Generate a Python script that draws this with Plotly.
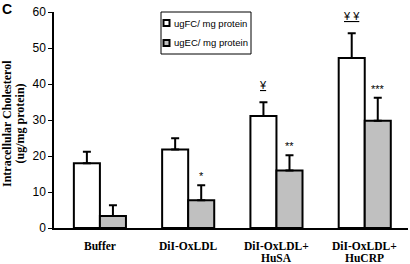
import plotly.graph_objects as go

categories = ["Buffer", "DiI-OxLDL", "DiI-OxLDL+<br>HuSA", "DiI-OxLDL+<br>HuCRP"]
series_names = ["ugFC/ mg protein", "ugEC/ mg protein"]
fc_values = [18.0, 21.8, 31.1, 47.2]
fc_errors = [3.2, 3.1, 3.8, 6.9]
ec_values = [3.3, 7.7, 16.0, 29.8]
ec_errors = [3.0, 4.2, 4.2, 6.4]
fc_marks = ["", "", "<u>¥</u>", "<u>¥ ¥</u>"]
ec_marks = ["", "*", "**", "***"]
y_ticks = [0, 10, 20, 30, 40, 50, 60]
y_title = ["Intracellular Cholesterol", "(ug/mg protein)"]
panel_label = "C"
colors = ["white", "#c0c0c0"]

W, H = 410, 264
ML, MR, MT, MB = 54, 2, 12, 36
pw = W - ML - MR
ph = H - MT - MB


def px(x):
    return (x - ML) / pw


def py(y):
    return 1 - (y - MT) / ph


idx = list(range(len(categories)))
bargap = 0.41
half = (1 - bargap) / 4

fig = go.Figure()
for name, vals, errs, col in [(series_names[0], fc_values, fc_errors, colors[0]),
                              (series_names[1], ec_values, ec_errors, colors[1])]:
    fig.add_trace(go.Bar(
        x=idx, y=vals, name=name,
        marker=dict(color=col, line=dict(color="black", width=2)),
        error_y=dict(type="data", array=errs, arrayminus=[0] * len(errs), symmetric=False,
                     color="black", thickness=2, width=4),
    ))

ann = []
for i in idx:
    if fc_marks[i]:
        ann.append(dict(x=i - half, y=fc_values[i] + fc_errors[i], text=fc_marks[i],
                        showarrow=False, yanchor="bottom", yshift=9,
                        font=dict(family="Arial", size=11, color="black")))
    if ec_marks[i]:
        ann.append(dict(x=i + half, y=ec_values[i] + ec_errors[i], text=ec_marks[i],
                        showarrow=False, yanchor="bottom", yshift=1,
                        font=dict(family="Arial", size=11, color="black")))

# x category labels, one annotation per line for tight spacing
for i, c in enumerate(categories):
    for j, line in enumerate(c.split("<br>")):
        ann.append(dict(x=i, xref="x", yref="paper", y=py(245.5 + 12 * j),
                        text="<b>%s</b>" % line,
                        showarrow=False, yanchor="middle", align="center",
                        font=dict(family="Liberation Serif", size=11.5, color="black")))

ann.append(dict(xref="paper", yref="paper", x=px(0), y=py(-1), text="<b>%s</b>" % panel_label,
                showarrow=False, xanchor="left", yanchor="top",
                font=dict(family="Arial", size=14, color="black")))
for j, line in enumerate(y_title):
    ann.append(dict(xref="paper", yref="paper", x=px(7 + 12.5 * j), y=py(124),
                    text="<b>%s</b>" % line,
                    showarrow=False, textangle=-90, xanchor="center", yanchor="middle",
                    font=dict(family="Liberation Serif", size=12, color="black")))

# legend
shapes = [dict(type="rect", xref="paper", yref="paper", x0=px(161), x1=px(251),
               y0=py(54), y1=py(12), line=dict(color="black", width=1), fillcolor="white",
               layer="above")]
for k, (name, col) in enumerate(zip(series_names, colors)):
    yc = 23 + 20 * k
    shapes.append(dict(type="rect", xref="paper", yref="paper", x0=px(163.5), x1=px(169.5),
                       y0=py(yc + 3), y1=py(yc - 3), line=dict(color="black", width=2),
                       fillcolor=col, layer="above"))
    ann.append(dict(xref="paper", yref="paper", x=px(172), y=py(yc), text=name,
                    showarrow=False, xanchor="left", yanchor="middle",
                    font=dict(family="Arial", size=9.5, color="black")))

fig.update_layout(
    width=W, height=H,
    margin=dict(l=ML, r=MR, t=MT, b=MB, pad=0, autoexpand=False),
    paper_bgcolor="white", plot_bgcolor="white",
    barmode="group", bargap=bargap, bargroupgap=0,
    showlegend=False,
    annotations=ann, shapes=shapes,
)
fig.update_xaxes(
    tickmode="array", tickvals=idx, showticklabels=False, automargin=False,
    range=[-0.52, 3.49], showline=True, linecolor="black", linewidth=1.5,
    ticks="", showgrid=False, zeroline=False,
)
fig.update_yaxes(
    range=[0, 60], tickvals=y_ticks, showline=True, linecolor="black", linewidth=1.5,
    ticks="outside", ticklen=4, tickcolor="black", showgrid=False, zeroline=False,
    automargin=False,
    tickfont=dict(family="Arial", size=12, color="black"),
)
fig.write_html("out.html", config={"displayModeBar": False},
               post_script="document.body.style.margin='0';document.body.style.overflow='hidden';")
